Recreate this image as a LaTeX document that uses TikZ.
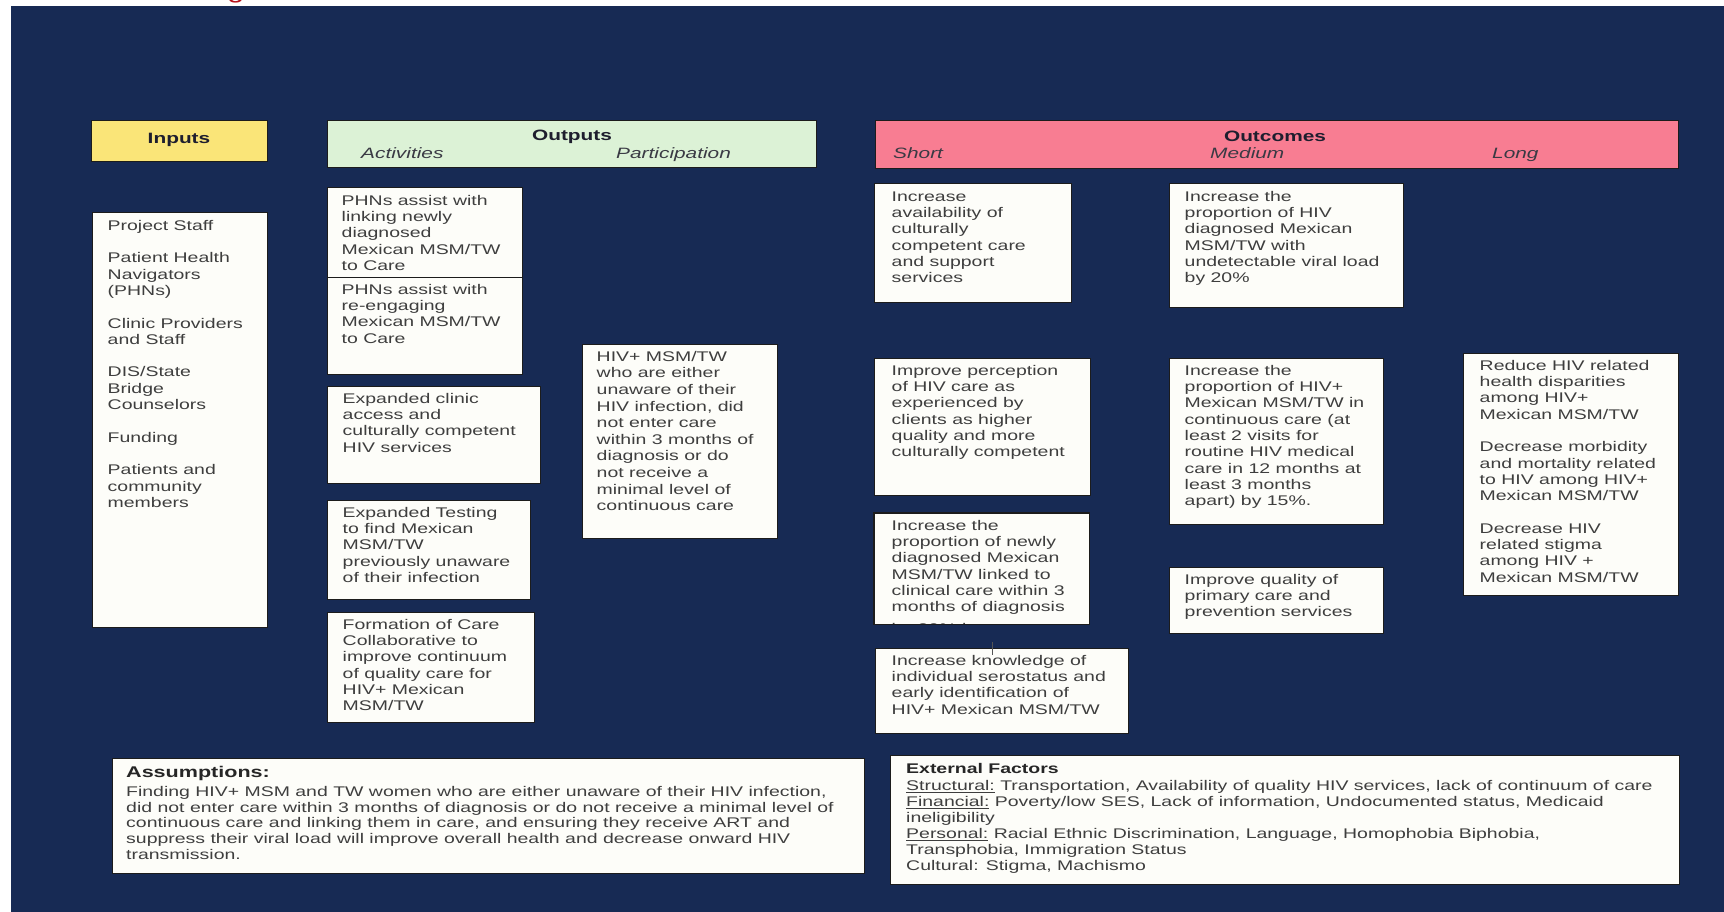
\documentclass[tikz,border=0pt]{standalone}
\usepackage{fontspec}
\setmainfont{Liberation Sans}[FakeStretch=1.39]
\usetikzlibrary{fit}
\definecolor{navy}{HTML}{172A54}
\definecolor{boxfill}{HTML}{FDFDF9}
\definecolor{boxline}{HTML}{1C1C1C}
\definecolor{inyellow}{HTML}{FAE578}
\definecolor{outgreen}{HTML}{DCF2D6}
\definecolor{ocpink}{HTML}{F87D92}
\definecolor{txtgray}{HTML}{3E3E3E}
\definecolor{hdrtxt}{HTML}{1E1E2E}
\definecolor{subtxt}{HTML}{3A3A44}
\definecolor{figred}{HTML}{B5121B}
\definecolor{tickgray}{HTML}{555555}
\tikzset{
  box/.style={draw=boxline, line width=1pt, fill=boxfill, inner sep=0pt, rectangle},
  txt/.style={inner sep=0pt, align=left, text=txtgray, font=\fontsize{14}{16.3}\selectfont, anchor=north west},
  htitle/.style={inner sep=0pt, text=hdrtxt, font=\fontsize{15}{18}\selectfont\bfseries, anchor=base},
  hsub/.style={inner sep=0pt, text=subtxt, font=\fontsize{15}{18}\selectfont\itshape, anchor=base west},
  btitle/.style={inner sep=0pt, text=black!85, anchor=base west},
}
\newcommand\lmbox[5][16pt]{%
  \node[box, fit={#3 #4}] (#2) {};
  \node[txt] (#2-t) at ([xshift=#1,yshift=-6.5pt]#2.north west) {\rule{0pt}{11pt}#5};}
\begin{document}
\begin{tikzpicture}[x=1pt,y=-1pt]
\useasboundingbox (0,0) rectangle (1724,912);
\fill[white] (0,0) rectangle (1724,912);
\fill[navy] (11,6) rectangle (1724,912);
\node[font=\fontsize{22}{26}\selectfont, text=figred, anchor=base, inner sep=0pt] (figg) at (236,-1.5) {g};

% headers
\node[box, fill=inyellow, fit={(91,121) (267,162)}] (inputs) {};
\node[htitle] (inputs-t) at (179,143.5) {Inputs};
\node[box, fill=outgreen, fit={(327,121) (816,168)}] (outputs) {};
\node[htitle] (outputs-t) at (572,141) {Outputs};
\node[hsub] (activities) at (361,158.5) {Activities};
\node[hsub] (participation) at (616,158.5) {Participation};
\node[box, fill=ocpink, fit={(875,121) (1678,169)}] (outcomes) {};
\node[htitle] (outcomes-t) at (1275,141.5) {Outcomes};
\node[hsub] (short) at (893,159) {Short};
\node[hsub] (medium) at (1210,159) {Medium};
\node[hsub] (long) at (1492,159) {Long};

% inputs
\lmbox{inp}{(92,213)}{(267,627)}{Project Staff\\[16.3pt]Patient Health\\Navigators\\(PHNs)\\[16.3pt]Clinic Providers\\and Staff\\[16.3pt]DIS/State\\Bridge\\Counselors\\[16.3pt]Funding\\[16.3pt]Patients and\\community\\members}

% activities
\lmbox[15pt]{phn1}{(327,188)}{(522,277)}{PHNs assist with\\linking newly\\diagnosed\\Mexican MSM/TW\\to Care}
\lmbox[15pt]{phn2}{(327,277)}{(522,374)}{PHNs assist with\\re-engaging\\Mexican MSM/TW\\to Care}
\lmbox{clinic}{(327,386)}{(540,483)}{Expanded clinic\\access and\\culturally competent\\HIV services}
\lmbox{testing}{(327,500)}{(530,599)}{Expanded Testing\\to find Mexican\\MSM/TW\\previously unaware\\of their infection}
\lmbox{formation}{(327,612)}{(534,722)}{Formation of Care\\Collaborative to\\improve continuum\\of quality care for\\HIV+ Mexican\\MSM/TW}

% participation
\lmbox[15pt]{part}{(582,344)}{(777,538)}{HIV+ MSM/TW\\[0.3pt]who are either\\[0.3pt]unaware of their\\[0.3pt]HIV infection, did\\[0.3pt]not enter care\\[0.3pt]within 3 months of\\[0.3pt]diagnosis or do\\[0.3pt]not receive a\\[0.3pt]minimal level of\\[0.3pt]continuous care}

% short outcomes
\lmbox[18pt]{s1}{(874,184)}{(1071,302)}{Increase\\availability of\\culturally\\competent care\\and support\\services}
\lmbox[18pt]{s2}{(874,358)}{(1090,495)}{Improve perception\\of HIV care as\\experienced by\\clients as higher\\quality and more\\culturally competent}
\node[box, fit={(874,513) (1089,624)}] (s3) {};
\begin{scope}
\clip (s3.north west) rectangle (s3.south east);
\node[txt] (s3-t) at ([xshift=18pt,yshift=-6.5pt]s3.north west) {\rule{0pt}{11pt}Increase the\\proportion of newly\\diagnosed Mexican\\MSM/TW linked to\\clinical care within 3\\months of diagnosis\\[5pt]by 20\% by};
\end{scope}
\draw[boxline, line width=1pt] (s3.north west) rectangle (s3.south east);
\lmbox[17pt]{s4}{(875,648)}{(1128,733)}{Increase knowledge of\\individual serostatus and\\early identification of\\HIV+ Mexican MSM/TW}
\coordinate (tickTop) at (992,642);
\coordinate (tickBot) at (992,655);
\draw[tickgray, line width=1pt] (tickTop) -- (tickBot);

% medium outcomes
\lmbox{m1}{(1169,184)}{(1403,307)}{Increase the\\proportion of HIV\\diagnosed Mexican\\MSM/TW with\\undetectable viral load\\by 20\%}
\lmbox{m2}{(1169,358)}{(1383,524)}{Increase the\\proportion of HIV+\\Mexican MSM/TW in\\continuous care (at\\least 2 visits for\\routine HIV medical\\care in 12 months at\\least 3 months\\apart) by 15\%.}
\lmbox{m3}{(1169,567)}{(1383,633)}{Improve quality of\\primary care and\\prevention services}

% long outcomes
\lmbox[17pt]{l1}{(1463,353)}{(1678,595)}{Reduce HIV related\\health disparities\\among HIV+\\Mexican MSM/TW\\[16.3pt]Decrease morbidity\\and mortality related\\to HIV among HIV+\\Mexican MSM/TW\\[16.3pt]Decrease HIV\\related stigma\\among HIV +\\Mexican MSM/TW}

% assumptions
\node[box, fit={(112,758) (864,873)}] (assump) {};
\node[btitle, font=\fontsize{15.5}{18}\selectfont\bfseries] (assump-title) at (126,777) {Assumptions:};
\node[txt, font=\fontsize{14}{15.8}\selectfont] (assump-t) at (126,785) {\rule{0pt}{11pt}Finding HIV+ MSM and TW women who are either unaware of their HIV infection,\\did not enter care within 3 months of diagnosis or do not receive a minimal level of\\continuous care and linking them in care, and ensuring they receive ART and\\suppress their viral load will improve overall health and decrease onward HIV\\transmission.};

% external factors
\node[box, fit={(890,755) (1679,884)}] (ext) {};
\node[btitle, font=\fontsize{14}{17}\selectfont\bfseries] (ext-title) at (906,773) {External Factors};
\node[txt, font=\fontsize{14}{16.1}\selectfont] (ext-t) at (906,779) {\rule{0pt}{11pt}\underline{Structural:} Transportation, Availability of quality HIV services, lack of continuum of care\\\underline{Financial:} Poverty/low SES, Lack of information, Undocumented status, Medicaid\\ineligibility\\\underline{Personal:} Racial Ethnic Discrimination, Language, Homophobia Biphobia,\\Transphobia, Immigration Status\\Cultural: Stigma, Machismo};
\end{tikzpicture}
\end{document}
